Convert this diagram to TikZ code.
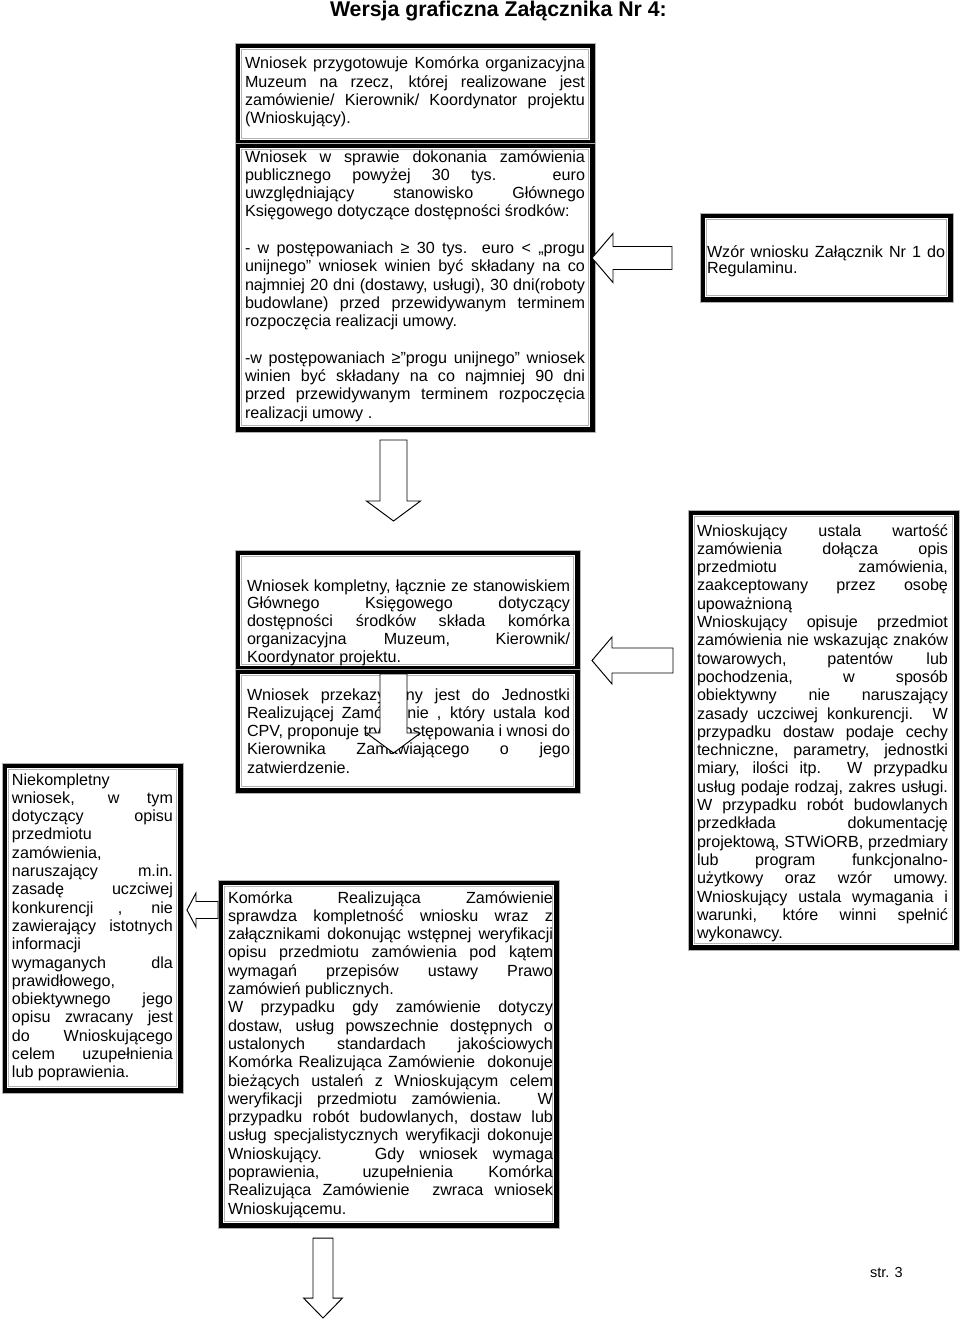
\documentclass[tikz,border=0pt]{standalone}
\usepackage{fontspec}
\setmainfont{Liberation Sans}
\usetikzlibrary{fit}
\newcommand\JL[1]{\makebox[\linewidth][s]{#1}\par}
\newcommand\BL{\mbox{}\par}
\newcommand\frm[5]{\coordinate (#1-nw) at (#2,#3); \coordinate (#1-se) at (#4,#5); \node[frm, fit=(#1-nw)(#1-se)] (#1) {};}
\newcommand\txt[5]{\node[txt, anchor=base west] (#1) at (#2,#3) {\parbox[t]{#4pt}{\fontsize{10pt}{11.35pt}\selectfont #5}};}
% down block arrow: name, cx, half shaft, half head, top, head base, tip
\newcommand\darrow[7]{\draw[barrow] ({#2-#3},#5) coordinate (#1) -- ({#2+#3},#5) -- ({#2+#3},#6) -- ({#2+#4},#6) -- (#2,#7) -- ({#2-#4},#6) -- ({#2-#3},#6) -- cycle;}
% left block arrow: name, tip x, cy, half shaft, half head, head base x, end x
\newcommand\larrow[7]{\draw[barrow] (#2,#3) coordinate (#1) -- (#6,{#3-#5}) -- (#6,{#3-#4}) -- (#7,{#3-#4}) -- (#7,{#3+#4}) -- (#6,{#3+#4}) -- (#6,{#3+#5}) -- cycle;}
\tikzset{
  frm/.style={draw=gray!60, line width=0.4pt, fill=black, inner sep=0pt, outer sep=0pt,
    path picture={
      \fill[white] ([shift={(3.2pt,3.2pt)}]path picture bounding box.south west) rectangle ([shift={(-3.2pt,-3.2pt)}]path picture bounding box.north east);
      \draw[line width=0.6pt] ([shift={(4.2pt,4.2pt)}]path picture bounding box.south west) rectangle ([shift={(-4.2pt,-4.2pt)}]path picture bounding box.north east);
    }},
  txt/.style={inner sep=0pt, outer sep=0pt},
  barrow/.style={draw=black, fill=white, line width=0.6pt, line join=miter}
}
\begin{document}
\begin{tikzpicture}[x=0.62pt, y=-0.62pt]
\fill[white] (0,0) rectangle (960,1322);
\useasboundingbox (0,0) rectangle (960,1322);

\node[txt, anchor=base west] (title) at (330,17) {\fontsize{13.2pt}{15pt}\selectfont\bfseries Wersja graficzna Załącznika Nr 4:};

% frames
\frm{A}{235}{43}{595}{145}
\frm{B}{235}{143}{595}{432}
\frm{W}{700}{213}{953}{302}
\frm{C}{235}{550}{580}{671}
\frm{D}{235}{669}{580}{793}
\frm{R}{688}{510}{959}{950}
\frm{L}{2}{763}{183}{1093}
\frm{E}{218}{880}{559}{1228}

\txt{tA}{245}{69}{210.8}{%
\JL{Wniosek przygotowuje Komórka organizacyjna}
\JL{Muzeum na rzecz, której realizowane jest}
\JL{zamówienie/ Kierownik/ Koordynator projektu}
(Wnioskujący).\par}

\txt{tB}{245}{162}{210.8}{%
\JL{Wniosek w sprawie dokonania zamówienia}
\JL{publicznego powyżej 30 tys. euro}
\JL{uwzględniający stanowisko Głównego}
Księgowego dotyczące dostępności środków:\par
\BL
\JL{- w postępowaniach ≥ 30 tys. euro < „progu}
\JL{unijnego” wniosek winien być składany na co}
\JL{najmniej 20 dni (dostawy, usługi), 30 dni(roboty}
\JL{budowlane) przed przewidywanym terminem}
rozpoczęcia realizacji umowy.\par
\BL
\JL{-w postępowaniach ≥”progu unijnego” wniosek}
\JL{winien być składany na co najmniej 90 dni}
\JL{przed przewidywanym terminem rozpoczęcia}
realizacji umowy .\par}

\txt{tW}{707}{257}{147.6}{\fontsize{10pt}{10.35pt}\selectfont
\JL{Wzór wniosku Załącznik Nr 1 do}
Regulaminu.\par}

\txt{tC}{247}{591}{200.3}{\fontsize{10pt}{11.05pt}\selectfont
\JL{Wniosek kompletny, łącznie ze stanowiskiem}
\JL{Głównego Księgowego dotyczący}
\JL{dostępności środków składa komórka}
\JL{organizacyjna Muzeum, Kierownik/}
Koordynator projektu.\par}

\txt{tD}{247}{700}{200.3}{%
\JL{Wniosek przekazywany jest do Jednostki}
\JL{Realizującej Zamówienie , który ustala kod}
\JL{CPV, proponuje tryb postępowania i wnosi do}
\JL{Kierownika Zamawiającego o jego}
zatwierdzenie.\par}

\txt{tR}{697}{536}{155.6}{%
\JL{Wnioskujący ustala wartość}
\JL{zamówienia dołącza opis}
\JL{przedmiotu zamówienia,}
\JL{zaakceptowany przez osobę}
upoważnioną\par
\JL{Wnioskujący opisuje przedmiot}
\JL{zamówienia nie wskazując znaków}
\JL{towarowych, patentów lub}
\JL{pochodzenia, w sposób}
\JL{obiektywny nie naruszający}
\JL{zasady uczciwej konkurencji. W}
\JL{przypadku dostaw podaje cechy}
\JL{techniczne, parametry, jednostki}
\JL{miary, ilości itp. W przypadku}
\JL{usług podaje rodzaj, zakres usługi.}
\JL{W przypadku robót budowlanych}
\JL{przedkłada dokumentację}
\JL{projektową, STWiORB, przedmiary}
\JL{lub program funkcjonalno-}
\JL{użytkowy oraz wzór umowy.}
\JL{Wnioskujący ustala wymagania i}
\JL{warunki, które winni spełnić}
wykonawcy.\par}

\txt{tL}{12}{785}{99.8}{%
Niekompletny\par
\JL{wniosek, w tym}
\JL{dotyczący opisu}
przedmiotu\par
zamówienia,\par
\JL{naruszający m.in.}
\JL{zasadę uczciwej}
\JL{konkurencji , nie}
\JL{zawierający istotnych}
informacji\par
\JL{wymaganych dla}
prawidłowego,\par
\JL{obiektywnego jego}
\JL{opisu zwracany jest}
\JL{do Wnioskującego}
\JL{celem uzupełnienia}
lub poprawienia.\par}

\txt{tE}{228}{903}{201.5}{%
\JL{Komórka Realizująca Zamówienie}
\JL{sprawdza kompletność wniosku wraz z}
\JL{załącznikami dokonując wstępnej weryfikacji}
\JL{opisu przedmiotu zamówienia pod kątem}
\JL{wymagań przepisów ustawy Prawo}
zamówień publicznych.\par
\JL{W przypadku gdy zamówienie dotyczy}
\JL{dostaw, usług powszechnie dostępnych o}
\JL{ustalonych standardach jakościowych}
\JL{Komórka Realizująca Zamówienie \ dokonuje}
\JL{bieżących ustaleń z Wnioskującym celem}
\JL{weryfikacji przedmiotu zamówienia. W}
\JL{przypadku robót budowlanych, dostaw lub}
\JL{usług specjalistycznych weryfikacji dokonuje}
\JL{Wnioskujący. \ Gdy wniosek wymaga}
\JL{poprawienia, uzupełnienia Komórka}
\JL{Realizująca Zamówienie \ zwraca wniosek}
Wnioskującemu.\par}

% block arrows
\larrow{a1}{592}{258}{11.5}{24.5}{613}{672}
\darrow{a2}{393.5}{13.5}{27}{440}{501}{521}
\larrow{a3}{592}{660.5}{12.5}{23.5}{612}{673}
\darrow{a4}{393.5}{13.5}{27}{674}{733}{753}
\larrow{a5}{187}{910}{8.5}{17}{196}{218}
\darrow{a6}{323}{10}{19.5}{1238}{1298}{1318}

\node[txt, anchor=base west] (page) at (870,1277) {\fontsize{9pt}{11pt}\selectfont str. 3};
\end{tikzpicture}
\end{document}
